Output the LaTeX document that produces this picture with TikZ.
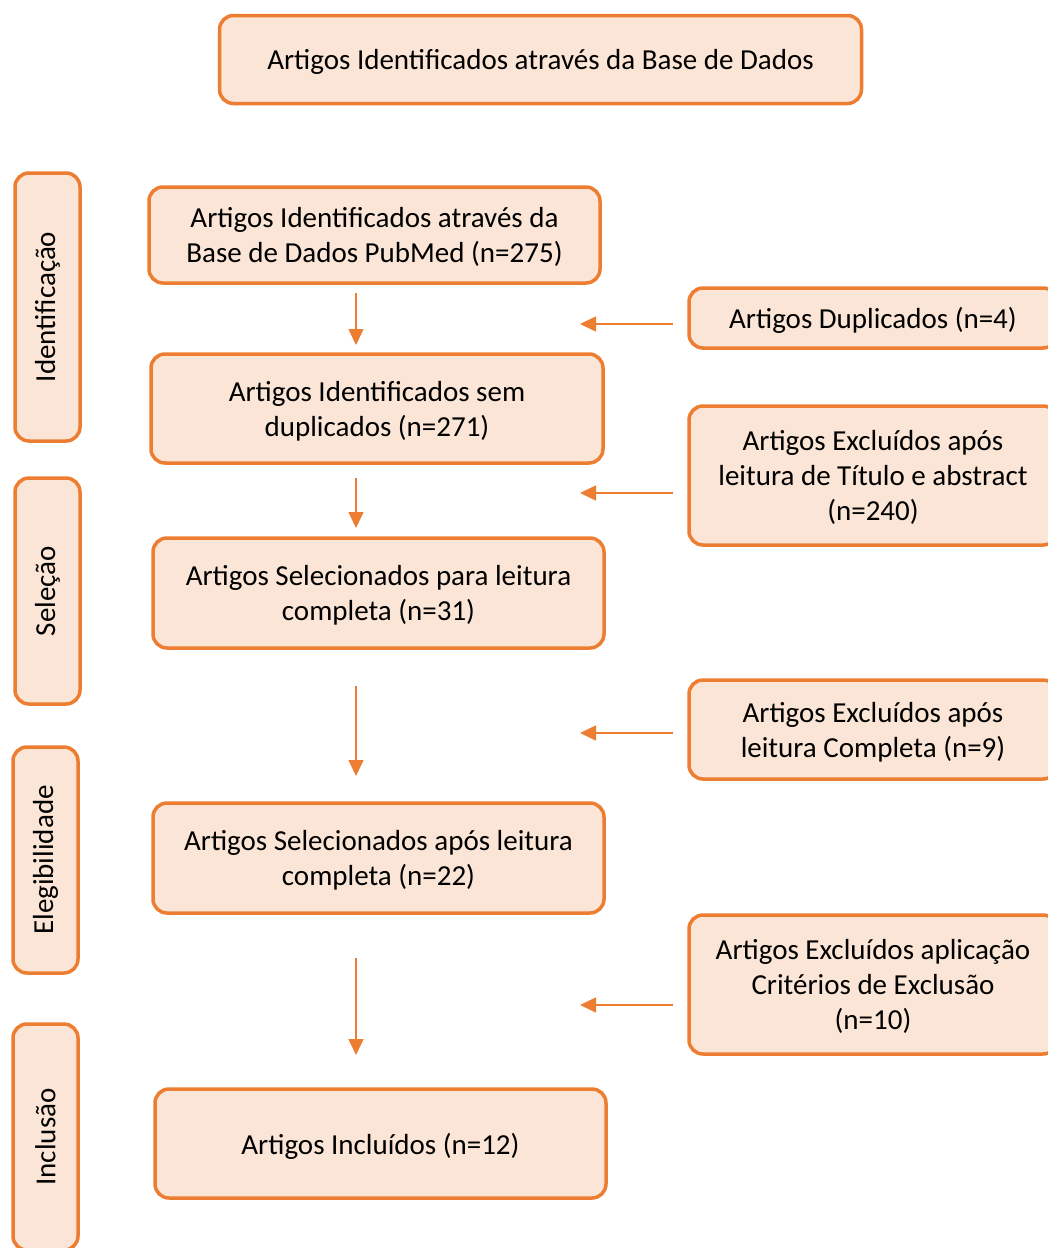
\documentclass[tikz,border=0pt]{standalone}
\usepackage{fontspec}
\setmainfont{Carlito}
\usetikzlibrary{arrows.meta}
\definecolor{bord}{HTML}{ED7D31}
\definecolor{fillc}{HTML}{FBE5D6}
\tikzset{
  basebox/.style={draw=bord, fill=fillc, line width=3.5pt, rounded corners=14pt, align=center, inner sep=0pt, font=\fontsize{29}{35}\selectfont},
  box/.style={basebox, text depth=0pt},
  side/.style={basebox, rotate=90, minimum height=65pt},
  arr/.style={draw=bord, line width=1.5pt, -{Triangle[length=16pt,width=15pt]}}
}
\begin{document}
\begin{tikzpicture}[x=1pt,y=-1pt]
\useasboundingbox (0,0) rectangle (1048,1248);
\clip (0,0) rectangle (1048,1248);
\node[box, minimum width=642pt, minimum height=88pt] (top) at (540.5,59.5) {Artigos Identificados através da Base de Dados};

\node[side, minimum width=268pt] (s1) at (47.5,307) {Identificação};
\node[side, minimum width=226pt] (s2) at (47.5,591) {Seleção};
\node[side, minimum width=226pt] (s3) at (45.5,860) {Elegibilidade};
\node[side, minimum width=226pt] (s4) at (45.5,1137) {Inclusão};

\node[box, minimum width=451pt, minimum height=96pt] (b1) at (374.5,235) {Artigos Identificados através da\\Base de Dados PubMed (n=275)};
\node[box, minimum width=452pt, minimum height=109pt] (b2) at (377,408.5) {Artigos Identificados sem\\duplicados (n=271)};
\node[box, minimum width=451pt, minimum height=110pt] (b3) at (378.5,593) {Artigos Selecionados para leitura\\completa (n=31)};
\node[box, minimum width=451pt, minimum height=110pt] (b4) at (378.5,858) {Artigos Selecionados após leitura\\completa (n=22)};
\node[box, minimum width=451pt, minimum height=109pt] (b5) at (380.5,1143.5) {Artigos Incluídos (n=12)};

\node[box, minimum width=368pt, minimum height=60pt] (r1) at (873,318) {Artigos Duplicados (n=4)};
\node[box, minimum width=368pt, minimum height=139pt] (r2) at (873,475.5) {Artigos Excluídos após\\leitura de Título e abstract\\(n=240)};
\node[box, minimum width=368pt, minimum height=99pt] (r3) at (873,729.5) {Artigos Excluídos após\\leitura Completa (n=9)};
\node[box, minimum width=368pt, minimum height=139pt] (r4) at (873,984.5) {Artigos Excluídos aplicação\\Critérios de Exclusão\\(n=10)};

\coordinate (d1a) at (356,293); \coordinate (d1b) at (356,345);
\coordinate (d2a) at (356,478); \coordinate (d2b) at (356,528);
\coordinate (d3a) at (356,686); \coordinate (d3b) at (356,776);
\coordinate (d4a) at (356,958); \coordinate (d4b) at (356,1055);
\coordinate (l1a) at (673,324); \coordinate (l1b) at (580,324);
\coordinate (l2a) at (673,493); \coordinate (l2b) at (580,493);
\coordinate (l3a) at (673,733); \coordinate (l3b) at (580,733);
\coordinate (l4a) at (673,1005); \coordinate (l4b) at (580,1005);
\foreach \p in {d1,d2,d3,d4,l1,l2,l3,l4} {\draw[arr] (\p a) -- (\p b);}
\end{tikzpicture}
\end{document}
